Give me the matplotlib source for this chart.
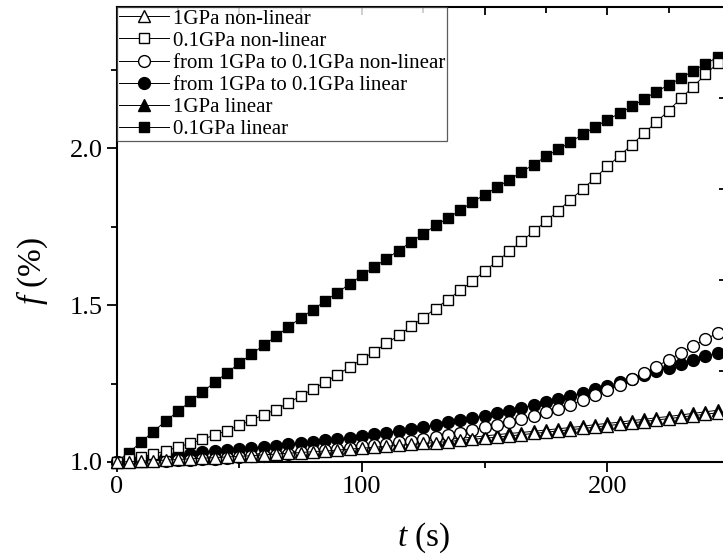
import matplotlib
matplotlib.use("Agg")
import matplotlib.pyplot as plt
from matplotlib.ticker import FixedLocator, NullFormatter

plt.rcParams['font.family'] = ['Liberation Serif', 'DejaVu Serif']
plt.rcParams['mathtext.fontset'] = 'custom'
plt.rcParams['mathtext.rm'] = 'Liberation Serif'
plt.rcParams['mathtext.it'] = 'Liberation Serif:italic'

# time axis (s)
t = list(range(0, 250, 5))

f_1gpa_nonlinear = [
    1.000, 1.001, 1.003, 1.004, 1.006, 1.008, 1.010, 1.012, 1.014, 1.016,
    1.018, 1.020, 1.023, 1.025, 1.028, 1.030, 1.033, 1.035, 1.038, 1.041,
    1.044, 1.047, 1.050, 1.053, 1.056, 1.059, 1.062, 1.065, 1.069, 1.072,
    1.076, 1.079, 1.083, 1.087, 1.091, 1.095, 1.099, 1.103, 1.107, 1.111,
    1.116, 1.120, 1.125, 1.129, 1.134, 1.138, 1.143, 1.148, 1.152, 1.157]

f_01gpa_nonlinear = [
    1.000, 1.008, 1.016, 1.025, 1.035, 1.048, 1.059, 1.072, 1.086, 1.100,
    1.117, 1.133, 1.151, 1.167, 1.189, 1.210, 1.232, 1.255, 1.278, 1.303,
    1.327, 1.352, 1.378, 1.404, 1.432, 1.460, 1.489, 1.517, 1.547, 1.576,
    1.608, 1.639, 1.671, 1.703, 1.735, 1.767, 1.801, 1.836, 1.870, 1.905,
    1.942, 1.976, 2.011, 2.048, 2.083, 2.120, 2.159, 2.196, 2.235, 2.271]

f_switch_nonlinear = [
    1.000, 1.001, 1.002, 1.003, 1.004, 1.006, 1.007, 1.009, 1.011, 1.013,
    1.015, 1.018, 1.020, 1.023, 1.027, 1.031, 1.034, 1.038, 1.042, 1.046,
    1.050, 1.054, 1.058, 1.063, 1.068, 1.074, 1.080, 1.087, 1.094, 1.102,
    1.110, 1.118, 1.127, 1.137, 1.147, 1.158, 1.170, 1.183, 1.197, 1.212,
    1.228, 1.245, 1.263, 1.283, 1.304, 1.326, 1.348, 1.370, 1.392, 1.410]

f_switch_linear = [
    1.000, 1.006, 1.011, 1.014, 1.018, 1.022, 1.027, 1.031, 1.035, 1.038,
    1.041, 1.045, 1.048, 1.052, 1.056, 1.061, 1.065, 1.069, 1.073, 1.078,
    1.083, 1.088, 1.094, 1.100, 1.106, 1.112, 1.119, 1.126, 1.133, 1.140,
    1.148, 1.156, 1.164, 1.173, 1.182, 1.191, 1.201, 1.211, 1.221, 1.232,
    1.243, 1.254, 1.265, 1.277, 1.289, 1.301, 1.313, 1.325, 1.337, 1.348]

f_1gpa_linear = [
    1.000, 1.002, 1.004, 1.006, 1.008, 1.010, 1.012, 1.015, 1.017, 1.020,
    1.022, 1.025, 1.027, 1.030, 1.033, 1.035, 1.038, 1.041, 1.044, 1.047,
    1.050, 1.053, 1.056, 1.059, 1.062, 1.066, 1.069, 1.072, 1.076, 1.079,
    1.083, 1.087, 1.091, 1.094, 1.098, 1.102, 1.106, 1.110, 1.114, 1.119,
    1.123, 1.127, 1.132, 1.136, 1.141, 1.145, 1.150, 1.155, 1.160, 1.165]

f_01gpa_linear = [
    1.000, 1.030, 1.063, 1.097, 1.130, 1.161, 1.193, 1.223, 1.254, 1.284,
    1.314, 1.344, 1.372, 1.401, 1.430, 1.459, 1.485, 1.513, 1.540, 1.567,
    1.595, 1.621, 1.648, 1.674, 1.701, 1.727, 1.754, 1.777, 1.802, 1.828,
    1.852, 1.875, 1.899, 1.924, 1.948, 1.974, 1.996, 2.019, 2.045, 2.067,
    2.091, 2.111, 2.133, 2.157, 2.180, 2.202, 2.223, 2.247, 2.269, 2.290]

labels = ["1GPa non-linear", "0.1GPa non-linear",
          "from 1GPa to 0.1GPa non-linear", "from 1GPa to 0.1GPa linear",
          "1GPa linear", "0.1GPa linear"]

x_major = [0, 100, 200]
x_minor = [50, 150, 250]
y_major = [1.0, 1.5, 2.0]
y_minor = [1.25, 1.75, 2.25]
y_ticklabels = ["1.0", "1.5", "2.0"]

fig = plt.figure(figsize=(7.23, 5.56), dpi=100)
W, H = 723.0, 556.0
ax = fig.add_axes([116.5 / W, 94 / H, (730 - 116.5) / W, (462 - 7) / H])

series = [
    (f_1gpa_nonlinear, '^', 'white', 8.5, 6),
    (f_01gpa_nonlinear, 's', 'white', 7.5, 5),
    (f_switch_nonlinear, 'o', 'white', 8.5, 4),
    (f_switch_linear, 'o', 'black', 8.5, 3),
    (f_1gpa_linear, '^', 'black', 8.5, 2),
    (f_01gpa_linear, 's', 'black', 7.5, 1),
]
handles = []
for (vals, mk, fc, ms, z), lab in zip(series, labels):
    h, = ax.plot(t, vals, color='black', lw=0.7, marker=mk, ms=ms,
                 mfc=fc, mec='black', mew=1.0, zorder=z, label=lab,
                 clip_on=False)
    handles.append(h)

ax.set_xlim(0, 250)
ax.set_ylim(1.0, 2.45)

for side in ['left', 'bottom', 'top', 'right']:
    ax.spines[side].set_linewidth(1.5)

ax.xaxis.set_major_locator(FixedLocator(x_major))
ax.xaxis.set_minor_locator(FixedLocator(x_minor))
ax.yaxis.set_major_locator(FixedLocator(y_major))
ax.yaxis.set_minor_locator(FixedLocator(y_minor))
ax.set_yticklabels(y_ticklabels)
ax.tick_params(axis='both', which='major', direction='out', length=7,
               width=1.3, labelsize=19, pad=3)
ax.tick_params(axis='both', which='minor', direction='out', length=4,
               width=1.3)
ax.tick_params(top=False, right=False, which='both')

# opposite axes: top ticks every 25 s, right side with five divisions
ax_top = ax.twiny()
ax_top.set_xlim(0, 250)
ax_top.xaxis.set_major_locator(FixedLocator([0, 50, 100, 150, 200, 250]))
ax_top.xaxis.set_minor_locator(FixedLocator([25, 75, 125, 175, 225]))
ax_top.xaxis.set_major_formatter(NullFormatter())
ax_top.tick_params(axis='x', which='major', direction='in', length=6, width=1.3)
ax_top.tick_params(axis='x', which='minor', direction='in', length=4, width=1.3)
for s in ax_top.spines.values():
    s.set_visible(False)

ax_r = ax.twinx()
ax_r.set_ylim(0, 5)
ax_r.yaxis.set_major_locator(FixedLocator([1, 2, 3, 4]))
ax_r.yaxis.set_major_formatter(NullFormatter())
ax_r.tick_params(axis='y', direction='in', length=8, width=1.3)
for s in ax_r.spines.values():
    s.set_visible(False)

ax.set_xlabel("$t$ (s)", fontsize=24, labelpad=16)
ax.set_ylabel("$f$ (%)", fontsize=24)
ax.yaxis.set_label_coords(-0.108, 0.42)

leg = ax_r.legend(handles=handles, loc='upper left', bbox_to_anchor=(0, 1),
                  borderaxespad=0, fontsize=15, frameon=True, fancybox=False,
                  handlelength=2.4, handletextpad=0.2, labelspacing=0.12,
                  borderpad=0.1)
leg.get_frame().set_edgecolor('#333333')
leg.get_frame().set_linewidth(0.9)
leg.set_zorder(20)

fig.savefig("out.png", dpi=100)
